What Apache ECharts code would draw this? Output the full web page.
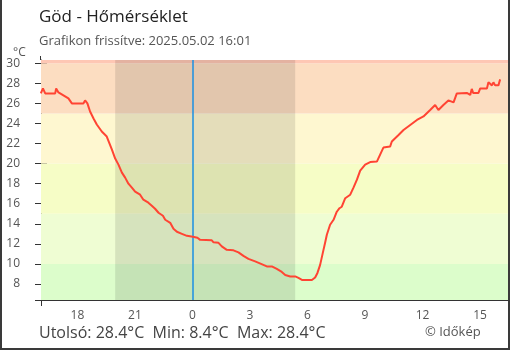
<!DOCTYPE html>
<html>
<head>
<meta charset="utf-8">
<script src="https://cdn.jsdelivr.net/npm/echarts@6/dist/echarts.min.js"></script>
<style>
html,body{margin:0;padding:0;background:#fff;}
#c{width:510px;height:350px;}
</style>
</head>
<body>
<div id="c"></div>
<script>
// ---- data (hours relative to midnight 2025.05.02, °C) ----
const hours = [
 -7.91,-7.80,-7.68,-7.16,-7.11,-6.99,-6.73,-6.47,-6.29,-5.69,-5.60,-5.48,-5.34,-5.16,-4.99,-4.73,-4.47,-4.20,-4.03,
 -3.86,-3.68,-3.51,-3.34,-3.16,-2.99,-2.73,-2.56,-2.30,-2.12,-1.95,-1.77,-1.54,-1.42,-1.16,-0.99,-0.81,-0.55,-0.29,
 0.02,0.26,0.40,1.01,1.10,1.36,1.53,1.79,2.14,2.40,2.66,2.92,3.27,3.70,3.88,4.14,4.40,4.66,4.84,5.10,5.36,5.53,5.71,
 6.23,6.40,6.52,6.66,6.80,6.92,7.01,7.18,7.36,7.53,7.67,7.79,7.97,8.23,8.40,8.58,8.75,9.01,9.27,9.62,9.79,9.96,10.31,
 10.40,10.75,11.01,11.36,11.71,12.05,12.40,12.66,12.83,13.09,13.35,13.62,13.79,14.31,14.49,14.57,14.64,14.92,15.01,
 15.36,15.44,15.62,15.70,15.79,15.96,16.05
];
const temps = [
 27.0,27.5,27.0,27.0,27.5,27.1,26.8,26.5,26.0,26.0,26.3,26.0,25.2,24.5,23.9,23.2,22.7,21.4,20.5,
 19.9,19.1,18.6,18.0,17.6,17.2,16.9,16.4,16.1,15.8,15.5,15.1,14.8,14.4,14.1,13.5,13.2,13.0,12.8,
 12.7,12.6,12.4,12.35,12.15,12.1,11.75,11.4,11.35,11.15,10.8,10.5,10.25,9.9,9.75,9.75,9.5,9.2,8.9,8.75,8.75,8.6,8.4,
 8.4,8.65,9.1,9.9,11.1,12.1,12.9,13.9,14.4,15.2,15.55,15.7,16.55,16.9,17.6,18.4,19.3,19.9,20.15,20.2,20.9,21.6,21.7,
 22.2,22.85,23.35,23.85,24.35,24.7,25.35,25.85,25.35,25.85,26.3,26.1,27.0,27.05,26.85,27.45,27.05,27.05,27.5,
 27.5,28.1,27.8,28.1,27.8,27.8,28.4
];
const xTickValues = [-6,-3,0,3,6,9,12,15];
const yTickValues = [8,10,12,14,16,18,20,22,24,26,28,30];
const bandEdges = [10,15,20,25,30];
const nightStart = -4.03, nightEnd = 5.36;
const X_MIN = -7.9, X_MAX = 16.46, Y_MIN = 6.4, Y_MAX = 30.33;
const titleText = 'Göd - Hőmérséklet';
const subText = 'Grafikon frissítve: 2025.05.02 16:01';
const footerText = 'Utolsó: 28.4°C  Min: 8.4°C  Max: 28.4°C';
const creditText = '© Időkép';

const bandColors = ['#dcfdcb','#effdd3','#f6fdc6','#fef7d0','#fcddc1','#fec7b4'];
const lows = [Y_MIN].concat(bandEdges), highs = bandEdges.concat([Y_MAX]);
const bandAreas = lows.map((lo,i)=>[{yAxis:lo,itemStyle:{color:bandColors[i]}},{yAxis:highs[i]}]);
const lineData = hours.map((h,i)=>[h,temps[i]]);
const FONT = '"Open Sans", "Noto Sans", sans-serif';

const chart = echarts.init(document.getElementById('c'));
chart.setOption({
  animation:false,
  textStyle:{fontFamily:FONT},
  grid:{left:41,right:2,top:60,bottom:50,containLabel:false},
  title:[
    {text:titleText,left:34,top:4,textStyle:{fontFamily:FONT,fontSize:17,fontWeight:'normal',color:'#222'}},
    {text:subText,left:34,top:30,textStyle:{fontFamily:FONT,fontSize:13,fontWeight:'normal',color:'#555'}},
    {text:'°C',left:8,top:42,textStyle:{fontFamily:FONT,fontSize:12,fontWeight:'normal',color:'#555'}},
    {text:footerText,left:34,top:320,textStyle:{fontFamily:FONT,fontSize:16,fontWeight:'normal',color:'#444'}},
    {text:creditText,left:420,top:321,textStyle:{fontFamily:FONT,fontSize:13,fontWeight:'normal',color:'#555'}}
  ],
  xAxis:[
    {type:'value',min:X_MIN,max:X_MAX,
     axisLine:{show:true,onZero:false,lineStyle:{color:'#333',width:1}},
     splitLine:{show:false},
     axisTick:{show:true,inside:true,length:6,customValues:xTickValues,lineStyle:{color:'#333'}},
     axisLabel:{customValues:xTickValues,margin:10,fontSize:12,color:'#555',fontFamily:FONT,
       formatter:v=>String(((Math.round(v)%24)+24)%24)}},
    {type:'value',min:X_MIN,max:X_MAX,position:'bottom',
     axisLine:{show:false,onZero:false},splitLine:{show:false},axisLabel:{show:false},
     axisTick:{show:true,inside:false,length:6,customValues:[X_MIN],lineStyle:{color:'#333'}}}
  ],
  yAxis:[
    {type:'value',min:Y_MIN,max:Y_MAX,
     axisLine:{show:true,onZero:false,lineStyle:{color:'#333',width:1}},
     splitLine:{show:false},
     axisTick:{show:true,inside:false,length:6,customValues:[Y_MIN].concat(yTickValues),lineStyle:{color:'#333'}},
     axisLabel:{customValues:yTickValues,margin:21,fontSize:12,color:'#555',fontFamily:FONT}},
    {type:'value',min:Y_MIN,max:Y_MAX,position:'left',
     axisLine:{show:false,onZero:false},splitLine:{show:false},axisLabel:{show:false},
     axisTick:{show:true,inside:true,length:6,customValues:yTickValues,lineStyle:{color:'#333'}}}
  ],
  series:[
    {type:'line',data:[],z:1,silent:true,
     markArea:{silent:true,data:bandAreas}},
    {type:'line',data:[],z:2,silent:true,
     markArea:{silent:true,itemStyle:{color:'rgba(0,0,0,0.1)'},data:[[{xAxis:nightStart},{xAxis:nightEnd}]]},
     markLine:{silent:true,symbol:'none',label:{show:false},lineStyle:{color:'#1a8fe3',width:1.5,type:'solid'},data:[{xAxis:0}]}},
    {type:'line',data:lineData,z:5,showSymbol:false,symbol:'none',
     lineStyle:{color:'#ff4433',width:2},itemStyle:{color:'#ff4433'}}
  ],
  graphic:[
    {type:'line',shape:{x1:40.5,y1:56,x2:40.5,y2:60},style:{stroke:'#333',lineWidth:1}},
    {type:'polyline',shape:{points:[[1,0],[1,349],[509,349],[509,0]]},style:{stroke:'#3a3a3a',lineWidth:2,fill:null}}
  ]
});
</script>
</body>
</html>
